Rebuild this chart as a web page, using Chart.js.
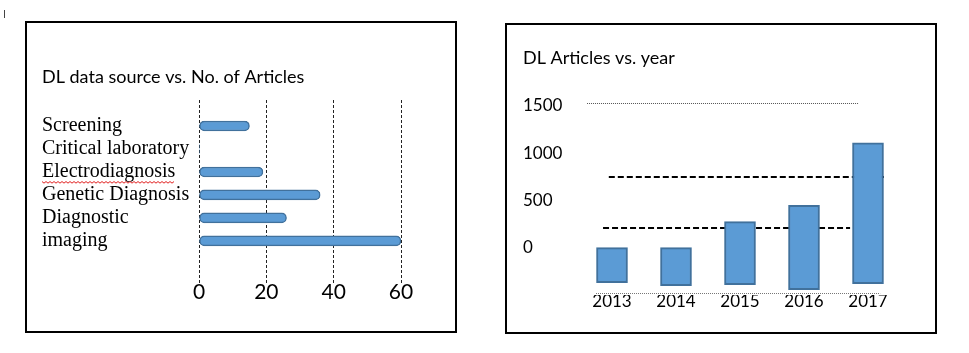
<!DOCTYPE html>
<html>
<head>
<meta charset="utf-8">
<script src="https://cdn.jsdelivr.net/npm/chart.js@4.4.1/dist/chart.umd.min.js"></script>
<style>
  body { margin: 0; background: #fff; width: 969px; height: 353px; position: relative; overflow: hidden; }
  .box { position: absolute; border: 2px solid #000; }
  #leftBox { left: 25px; top: 21px; width: 428px; height: 308px; }
  #rightBox { left: 505px; top: 23px; width: 428px; height: 307px; }
  .cursor { position: absolute; left: 4px; top: 10px; width: 1px; height: 8px; background: #444; }
  canvas { display: block; }
</style>
</head>
<body>
<div class="cursor"></div>
<div class="box" id="leftBox"><canvas id="sourceChart" width="428" height="308"></canvas></div>
<div class="box" id="rightBox"><canvas id="yearChart" width="428" height="307"></canvas></div>
<script>
// data
const sourceLabels = ['Screening', 'Critical laboratory', 'Electrodiagnosis', 'Genetic Diagnosis', 'Diagnostic', 'imaging'];
const sourceArticles = [15, 0, 19, 36, 26, 60];
const sourceTicks = [0, 20, 40, 60];

const years = ['2013', '2014', '2015', '2016', '2017'];
const yearBarTop = [0, 0, 275, 447, 1109];
const yearBarBottom = [-370, -401, -391, -444, -380];
const yearTicks = [0, 500, 1000, 1500];
// hand drawn dashed lines across the year chart
const guideValues = [1530, 747, 210, -475];

const barFill = '#5B9BD5';
const barEdge = '#41719C';

Chart.defaults.font.family = 'Lato';
Chart.defaults.color = '#000';
Chart.defaults.animation = false;

document.addEventListener('DOMContentLoaded', function() {
    initSourceChart();
    initYearChart();
});

function initSourceChart() {
    const ctx = document.getElementById('sourceChart').getContext('2d');

    // red spell-check squiggle under one label
    const squiggle = {
        id: 'squiggle',
        afterDraw(chart) {
            const y = chart.scales.y;
            const c = chart.ctx;
            c.save();
            c.font = '20px "Liberation Serif"';
            const w = c.measureText(sourceLabels[2]).width;
            const x0 = y.left;
            const py = y.getPixelForValue(2) + 10;
            c.strokeStyle = '#e02020';
            c.lineWidth = 1;
            c.beginPath();
            for (let x = 0; x <= w; x += 2) {
                const yy = py + ((x / 2) % 2 ? 1.2 : -0.4);
                if (x === 0) c.moveTo(x0 + x, yy); else c.lineTo(x0 + x, yy);
            }
            c.stroke();
            c.restore();
        }
    };

    new Chart(ctx, {
        type: 'bar',
        data: {
            datasets: [{
                data: sourceArticles.map((v, i) => ({ x: v, y: i })),
                backgroundColor: barFill,
                borderColor: barEdge,
                borderWidth: (c) => (c.raw && c.raw.x ? 1.5 : 0),
                borderRadius: 5,
                borderSkipped: false,
                barThickness: 10
            }]
        },
        options: {
            indexAxis: 'y',
            responsive: false,
            layout: { padding: { left: 15, right: 54, top: 0, bottom: 0 } },
            plugins: {
                legend: { display: false },
                tooltip: { enabled: false },
                title: {
                    display: true,
                    text: 'DL data source vs. No. of Articles',
                    align: 'start',
                    font: { size: 18, weight: 'normal' },
                    padding: { top: 43.2, bottom: 12.2 }
                }
            },
            scales: {
                x: {
                    type: 'linear',
                    min: 0,
                    max: 60,
                    z: 1,
                    afterBuildTicks: (s) => { s.ticks = sourceTicks.map(v => ({ value: v })); },
                    afterFit: (s) => { s.height = 48; },
                    border: { display: false, dash: [3, 2] },
                    grid: { color: '#222', lineWidth: 1, drawTicks: false },
                    ticks: { font: { size: 21 }, padding: -3 }
                },
                y: {
                    type: 'linear',
                    reverse: true,
                    offset: false,
                    min: -1.13,
                    max: 6.83,
                    afterBuildTicks: (s) => { s.ticks = sourceLabels.map((l, i) => ({ value: i })); },
                    afterFit: (s) => { s.width = 157; },
                    border: { display: false },
                    grid: { display: false },
                    ticks: {
                        crossAlign: 'far',
                        font: { family: 'Liberation Serif', size: 20 },
                        callback: (v) => sourceLabels[v]
                    }
                }
            }
        },
        plugins: [squiggle]
    });
}

function initYearChart() {
    const ctx = document.getElementById('yearChart').getContext('2d');

    // start/end of each guide line in category units, plus its style
    const guideFrom = [-0.39, -0.05, -0.14, -0.25];
    const guideTo = [3.86, 4.25, 3.72, 4.19];
    const guideStyle = [
        { width: 1, dash: [1, 1], color: '#555' },
        { width: 2, dash: [6, 3], color: '#000' },
        { width: 2, dash: [6, 3], color: '#000' },
        { width: 1, dash: [1, 1], color: '#777' }
    ];

    const guides = {
        id: 'guides',
        beforeDatasetsDraw(chart) {
            const { x, y } = chart.scales;
            const c = chart.ctx;
            c.save();
            guideValues.forEach((v, i) => {
                const st = guideStyle[i];
                const py = Math.round(y.getPixelForValue(v)) + (st.width === 1 ? 0.5 : 0);
                c.strokeStyle = st.color;
                c.lineWidth = st.width;
                c.setLineDash(st.dash);
                c.beginPath();
                c.moveTo(x.getPixelForValue(guideFrom[i]), py);
                c.lineTo(x.getPixelForValue(guideTo[i]), py);
                c.stroke();
            });
            c.restore();
        }
    };

    new Chart(ctx, {
        type: 'bar',
        data: {
            labels: years,
            datasets: [{
                data: years.map((_, i) => [yearBarBottom[i], yearBarTop[i]]),
                backgroundColor: barFill,
                borderColor: barEdge,
                borderWidth: 2,
                borderSkipped: false,
                barThickness: 31
            }]
        },
        options: {
            responsive: false,
            layout: { padding: { left: 16, right: 35, top: 0, bottom: 0 } },
            plugins: {
                legend: { display: false },
                tooltip: { enabled: false },
                title: {
                    display: true,
                    text: 'DL Articles vs. year',
                    align: 'start',
                    font: { size: 18, weight: 'normal' },
                    padding: { top: 22.2, bottom: 32.2 }
                }
            },
            scales: {
                x: {
                    afterFit: (s) => { s.height = 37; },
                    border: { display: false },
                    grid: { display: false, drawTicks: false },
                    ticks: { font: { size: 17 }, padding: -3.6 }
                },
                y: {
                    min: -500,
                    max: 1550,
                    afterBuildTicks: (s) => { s.ticks = yearTicks.map(v => ({ value: v })); },
                    afterFit: (s) => { s.width = 57; },
                    border: { display: false },
                    grid: { display: false },
                    ticks: { crossAlign: 'far', font: { size: 17 }, callback: (v) => String(v) }
                }
            }
        },
        plugins: [guides]
    });
}
</script>
</body>
</html>
